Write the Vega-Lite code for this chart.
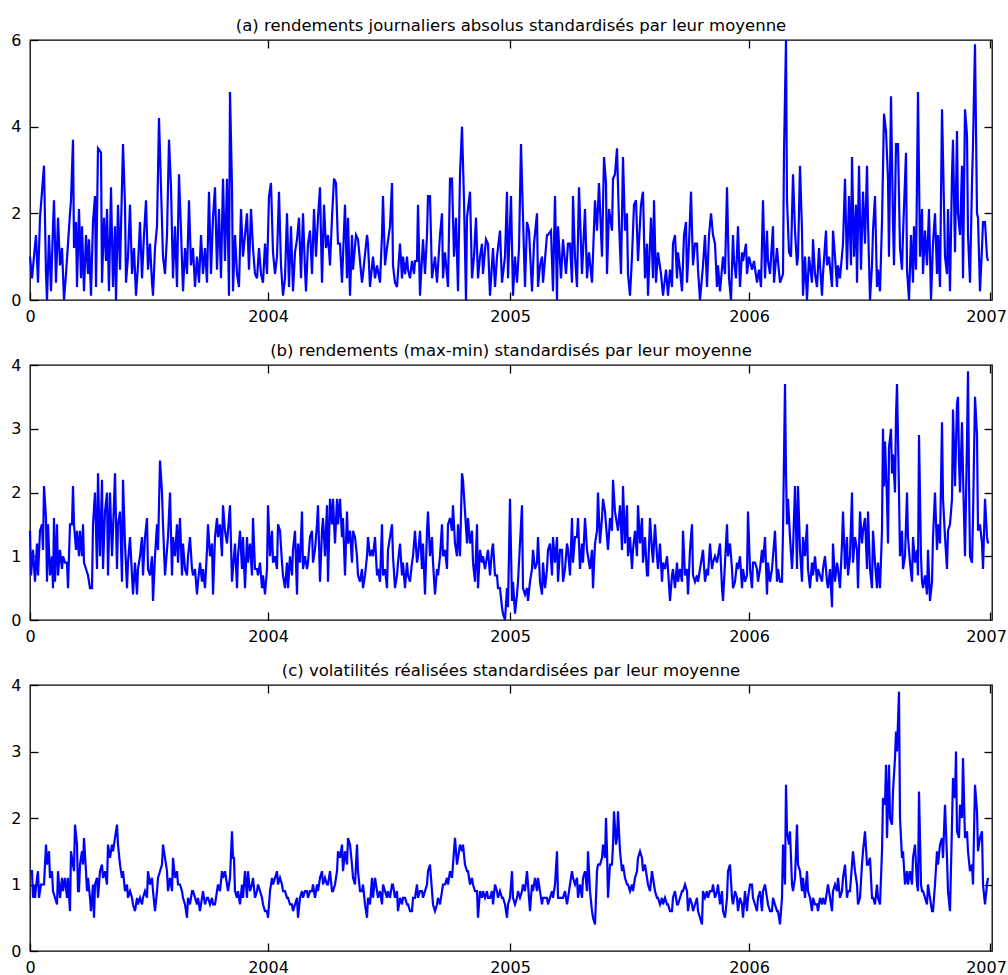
{
  "$schema": "https://vega.github.io/schema/vega-lite/v6.json",
  "padding": {"left": 10, "top": 16, "right": 0, "bottom": 0},
  "bounds": "flush",
  "spacing": 65,
  "config": {
    "font": "DejaVu Sans",
    "view": {"stroke": "#000", "strokeWidth": 1.3},
    "axis": {
      "domain": false, "grid": false,
      "labelFont": "DejaVu Sans", "labelFontSize": 16, "labelColor": "#000",
      "labelFlush": false, "labelPadding": 17,
      "tickColor": "#000", "tickSize": -8, "tickWidth": 1.3
    },
    "axisBottom": {"labelPadding": 16},
    "title": {"font": "DejaVu Sans", "fontSize": 16.5, "fontWeight": "normal", "color": "#000", "offset": -2}
  },
  "datasets": {
    "a": [
      {"jour":0,"v":1.0},{"jour":2,"v":0.5},{"jour":4,"v":1.0},{"jour":6,"v":1.5},{"jour":8,"v":0.4},{"jour":10,"v":1.9},{"jour":12,"v":2.5},{"jour":14,"v":3.1},{"jour":16,"v":0.6},{"jour":17,"v":0.0},
      {"jour":19,"v":1.5},{"jour":21,"v":0.2},{"jour":23,"v":1.7},{"jour":24,"v":2.3},{"jour":26,"v":0.4},{"jour":28,"v":1.9},{"jour":30,"v":0.8},{"jour":32,"v":1.2},{"jour":34,"v":0.0},{"jour":36,"v":0.6},
      {"jour":38,"v":1.3},{"jour":40,"v":2.0},{"jour":41,"v":2.3},{"jour":43,"v":3.7},{"jour":44,"v":1.2},{"jour":46,"v":1.8},{"jour":47,"v":0.3},{"jour":49,"v":2.1},{"jour":51,"v":0.5},{"jour":52,"v":1.7},
      {"jour":54,"v":0.2},{"jour":56,"v":1.5},{"jour":58,"v":0.6},{"jour":59,"v":1.4},{"jour":61,"v":0.1},{"jour":63,"v":1.8},{"jour":65,"v":2.4},{"jour":66,"v":0.3},{"jour":68,"v":3.5},{"jour":71,"v":3.4},
      {"jour":72,"v":0.4},{"jour":74,"v":1.9},{"jour":76,"v":0.9},{"jour":77,"v":2.1},{"jour":79,"v":0.2},{"jour":81,"v":2.6},{"jour":83,"v":0.3},{"jour":85,"v":1.7},{"jour":86,"v":0.0},{"jour":88,"v":2.2},
      {"jour":90,"v":0.7},{"jour":93,"v":3.6},{"jour":95,"v":2.2},{"jour":96,"v":0.4},{"jour":98,"v":1.0},{"jour":100,"v":2.2},{"jour":102,"v":0.6},{"jour":104,"v":1.2},{"jour":106,"v":0.1},{"jour":108,"v":0.8},
      {"jour":110,"v":1.8},{"jour":112,"v":0.5},{"jour":114,"v":1.5},{"jour":116,"v":2.3},{"jour":118,"v":0.7},{"jour":120,"v":1.3},{"jour":122,"v":0.4},{"jour":123,"v":0.1},{"jour":125,"v":1.2},{"jour":127,"v":1.7},
      {"jour":129,"v":4.2},{"jour":131,"v":2.6},{"jour":133,"v":1.0},{"jour":135,"v":0.6},{"jour":137,"v":1.5},{"jour":139,"v":3.7},{"jour":141,"v":2.6},{"jour":143,"v":0.5},{"jour":145,"v":1.7},{"jour":147,"v":0.3},
      {"jour":149,"v":2.9},{"jour":151,"v":1.6},{"jour":153,"v":0.2},{"jour":155,"v":1.2},{"jour":157,"v":0.6},{"jour":159,"v":2.3},{"jour":161,"v":0.8},{"jour":163,"v":1.2},{"jour":165,"v":0.3},{"jour":167,"v":1.0},
      {"jour":169,"v":0.4},{"jour":171,"v":1.5},{"jour":173,"v":0.6},{"jour":175,"v":1.2},{"jour":177,"v":0.4},{"jour":179,"v":2.5},{"jour":181,"v":0.6},{"jour":183,"v":1.9},{"jour":185,"v":2.6},{"jour":187,"v":0.7},
      {"jour":189,"v":2.1},{"jour":191,"v":0.5},{"jour":193,"v":2.8},{"jour":195,"v":0.9},{"jour":197,"v":2.8},{"jour":199,"v":0.1},{"jour":200,"v":4.8},{"jour":202,"v":2.6},{"jour":203,"v":0.2},{"jour":205,"v":1.5},
      {"jour":207,"v":0.6},{"jour":209,"v":0.3},{"jour":211,"v":2.1},{"jour":213,"v":1.0},{"jour":215,"v":1.5},{"jour":217,"v":2.0},{"jour":219,"v":0.7},{"jour":221,"v":2.1},{"jour":223,"v":1.2},{"jour":225,"v":0.6},
      {"jour":227,"v":0.5},{"jour":229,"v":1.2},{"jour":231,"v":0.6},{"jour":233,"v":0.4},{"jour":235,"v":1.3},{"jour":237,"v":0.6},{"jour":239,"v":2.4},{"jour":241,"v":2.7},{"jour":243,"v":1.1},{"jour":245,"v":0.6},
      {"jour":247,"v":1.0},{"jour":249,"v":2.5},{"jour":251,"v":0.8},{"jour":253,"v":0.1},{"jour":255,"v":0.5},{"jour":257,"v":2.0},{"jour":259,"v":0.3},{"jour":261,"v":1.7},{"jour":263,"v":0.2},{"jour":265,"v":1.1},
      {"jour":267,"v":1.4},{"jour":269,"v":1.9},{"jour":271,"v":0.5},{"jour":273,"v":2.0},{"jour":275,"v":0.7},{"jour":276,"v":0.2},{"jour":278,"v":1.3},{"jour":280,"v":1.6},{"jour":282,"v":0.6},{"jour":284,"v":2.1},
      {"jour":286,"v":1.0},{"jour":288,"v":1.9},{"jour":290,"v":2.6},{"jour":292,"v":0.4},{"jour":294,"v":2.2},{"jour":296,"v":1.2},{"jour":298,"v":1.5},{"jour":300,"v":0.8},{"jour":302,"v":1.9},{"jour":304,"v":2.8},
      {"jour":306,"v":2.7},{"jour":308,"v":1.3},{"jour":310,"v":1.3},{"jour":312,"v":0.4},{"jour":315,"v":2.2},{"jour":317,"v":0.5},{"jour":318,"v":1.9},{"jour":320,"v":0.1},{"jour":322,"v":1.5},{"jour":323,"v":0.7},
      {"jour":326,"v":1.5},{"jour":328,"v":1.4},{"jour":332,"v":0.4},{"jour":333,"v":0.6},{"jour":337,"v":1.5},{"jour":338,"v":1.3},{"jour":340,"v":0.3},{"jour":343,"v":1.0},{"jour":345,"v":0.5},{"jour":347,"v":0.8},
      {"jour":350,"v":0.4},{"jour":352,"v":1.5},{"jour":353,"v":2.4},{"jour":355,"v":0.8},{"jour":357,"v":1.2},{"jour":360,"v":1.7},{"jour":362,"v":2.7},{"jour":363,"v":0.8},{"jour":365,"v":0.4},{"jour":367,"v":0.3},
      {"jour":370,"v":1.3},{"jour":372,"v":0.5},{"jour":373,"v":1.0},{"jour":375,"v":0.6},{"jour":377,"v":1.0},{"jour":378,"v":0.7},{"jour":380,"v":0.5},{"jour":382,"v":0.9},{"jour":384,"v":0.6},{"jour":385,"v":0.9},
      {"jour":387,"v":0.9},{"jour":388,"v":2.2},{"jour":390,"v":0.1},{"jour":393,"v":1.4},{"jour":395,"v":0.6},{"jour":397,"v":1.5},{"jour":398,"v":2.4},{"jour":400,"v":2.4},{"jour":402,"v":0.5},{"jour":405,"v":1.0},
      {"jour":407,"v":0.4},{"jour":410,"v":1.5},{"jour":412,"v":2.0},{"jour":413,"v":0.5},{"jour":415,"v":1.1},{"jour":418,"v":0.3},{"jour":420,"v":2.8},{"jour":422,"v":2.8},{"jour":424,"v":1.0},{"jour":426,"v":1.9},
      {"jour":428,"v":0.2},{"jour":430,"v":2.9},{"jour":432,"v":4.0},{"jour":434,"v":2.3},{"jour":436,"v":0.0},{"jour":437,"v":1.9},{"jour":440,"v":2.5},{"jour":442,"v":0.5},{"jour":444,"v":1.0},{"jour":446,"v":1.9},
      {"jour":448,"v":0.5},{"jour":450,"v":1.0},{"jour":452,"v":1.3},{"jour":453,"v":0.6},{"jour":456,"v":1.4},{"jour":458,"v":1.3},{"jour":460,"v":0.1},{"jour":463,"v":1.2},{"jour":465,"v":0.3},{"jour":467,"v":1.0},
      {"jour":470,"v":1.6},{"jour":472,"v":0.4},{"jour":475,"v":1.0},{"jour":477,"v":2.5},{"jour":478,"v":0.5},{"jour":481,"v":2.4},{"jour":483,"v":0.1},{"jour":485,"v":1.0},{"jour":487,"v":0.4},{"jour":489,"v":1.2},
      {"jour":491,"v":3.6},{"jour":493,"v":1.9},{"jour":495,"v":0.3},{"jour":497,"v":1.8},{"jour":499,"v":1.6},{"jour":502,"v":0.2},{"jour":504,"v":1.3},{"jour":507,"v":2.0},{"jour":508,"v":0.3},{"jour":510,"v":0.8},
      {"jour":512,"v":1.0},{"jour":513,"v":0.4},{"jour":517,"v":1.5},{"jour":518,"v":1.5},{"jour":521,"v":1.6},{"jour":523,"v":0.2},{"jour":525,"v":2.4},{"jour":527,"v":0.0},{"jour":528,"v":1.7},{"jour":531,"v":0.5},
      {"jour":533,"v":1.4},{"jour":536,"v":0.6},{"jour":538,"v":1.3},{"jour":540,"v":1.3},{"jour":542,"v":0.4},{"jour":543,"v":2.4},{"jour":545,"v":1.0},{"jour":547,"v":0.3},{"jour":549,"v":2.6},{"jour":552,"v":0.6},
      {"jour":555,"v":2.1},{"jour":557,"v":0.5},{"jour":559,"v":1.1},{"jour":562,"v":0.4},{"jour":565,"v":2.3},{"jour":567,"v":1.6},{"jour":569,"v":2.7},{"jour":572,"v":1.0},{"jour":574,"v":3.3},{"jour":576,"v":2.7},
      {"jour":577,"v":0.6},{"jour":579,"v":2.1},{"jour":582,"v":1.6},{"jour":583,"v":2.8},{"jour":585,"v":2.9},{"jour":587,"v":3.5},{"jour":589,"v":1.8},{"jour":591,"v":0.6},{"jour":593,"v":3.3},{"jour":595,"v":1.6},
      {"jour":597,"v":2.0},{"jour":598,"v":0.6},{"jour":600,"v":0.1},{"jour":602,"v":1.0},{"jour":604,"v":2.2},{"jour":606,"v":2.3},{"jour":608,"v":0.9},{"jour":611,"v":2.2},{"jour":613,"v":2.5},{"jour":615,"v":0.5},
      {"jour":617,"v":1.3},{"jour":618,"v":0.1},{"jour":621,"v":1.9},{"jour":623,"v":0.5},{"jour":624,"v":2.3},{"jour":626,"v":0.4},{"jour":628,"v":1.1},{"jour":631,"v":0.6},{"jour":633,"v":0.1},{"jour":636,"v":0.7},
      {"jour":638,"v":0.1},{"jour":640,"v":0.7},{"jour":642,"v":0.3},{"jour":643,"v":1.3},{"jour":645,"v":1.5},{"jour":647,"v":0.5},{"jour":648,"v":1.1},{"jour":650,"v":0.7},{"jour":652,"v":0.2},{"jour":654,"v":1.5},
      {"jour":656,"v":1.8},{"jour":657,"v":0.4},{"jour":659,"v":1.3},{"jour":661,"v":2.5},{"jour":663,"v":0.8},{"jour":665,"v":1.3},{"jour":667,"v":1.3},{"jour":668,"v":0.7},{"jour":670,"v":0.0},{"jour":673,"v":0.8},
      {"jour":675,"v":1.5},{"jour":677,"v":0.3},{"jour":679,"v":1.5},{"jour":681,"v":2.0},{"jour":683,"v":1.5},{"jour":685,"v":1.3},{"jour":687,"v":0.3},{"jour":688,"v":0.8},{"jour":690,"v":0.2},{"jour":693,"v":1.0},
      {"jour":695,"v":0.6},{"jour":697,"v":2.6},{"jour":699,"v":0.5},{"jour":701,"v":0.0},{"jour":703,"v":1.5},{"jour":704,"v":0.9},{"jour":706,"v":0.5},{"jour":708,"v":1.7},{"jour":710,"v":0.3},{"jour":712,"v":1.1},
      {"jour":713,"v":0.9},{"jour":716,"v":1.3},{"jour":717,"v":0.6},{"jour":719,"v":1.0},{"jour":722,"v":0.7},{"jour":724,"v":0.9},{"jour":727,"v":0.4},{"jour":729,"v":0.7},{"jour":731,"v":0.3},{"jour":733,"v":2.3},
      {"jour":735,"v":0.5},{"jour":737,"v":1.6},{"jour":738,"v":0.9},{"jour":740,"v":0.6},{"jour":743,"v":1.7},{"jour":744,"v":0.4},{"jour":747,"v":1.2},{"jour":748,"v":0.9},{"jour":750,"v":0.4},{"jour":753,"v":0.6},
      {"jour":754,"v":3.4},{"jour":756,"v":6.0},{"jour":757,"v":2.3},{"jour":759,"v":1.1},{"jour":761,"v":1.0},{"jour":763,"v":2.9},{"jour":765,"v":1.6},{"jour":767,"v":0.8},{"jour":768,"v":1.0},{"jour":770,"v":3.1},
      {"jour":772,"v":1.6},{"jour":773,"v":0.1},{"jour":775,"v":1.0},{"jour":777,"v":0.0},{"jour":779,"v":1.0},{"jour":782,"v":0.4},{"jour":783,"v":1.4},{"jour":785,"v":0.6},{"jour":787,"v":0.3},{"jour":789,"v":1.2},
      {"jour":792,"v":0.1},{"jour":793,"v":0.6},{"jour":796,"v":1.6},{"jour":797,"v":0.8},{"jour":799,"v":1.0},{"jour":802,"v":0.3},{"jour":803,"v":1.6},{"jour":805,"v":1.0},{"jour":807,"v":0.3},{"jour":808,"v":0.8},
      {"jour":810,"v":0.5},{"jour":813,"v":1.3},{"jour":815,"v":2.8},{"jour":817,"v":0.7},{"jour":819,"v":2.4},{"jour":821,"v":0.8},{"jour":822,"v":3.3},{"jour":824,"v":1.0},{"jour":826,"v":2.2},{"jour":827,"v":0.4},
      {"jour":829,"v":3.1},{"jour":831,"v":0.7},{"jour":833,"v":2.5},{"jour":835,"v":1.3},{"jour":837,"v":3.1},{"jour":838,"v":1.8},{"jour":840,"v":0.0},{"jour":842,"v":0.8},{"jour":843,"v":1.6},{"jour":845,"v":2.4},
      {"jour":847,"v":0.3},{"jour":848,"v":0.7},{"jour":850,"v":0.2},{"jour":852,"v":1.8},{"jour":854,"v":4.3},{"jour":856,"v":3.9},{"jour":858,"v":2.8},{"jour":859,"v":1.0},{"jour":861,"v":4.7},{"jour":863,"v":1.8},
      {"jour":864,"v":0.8},{"jour":866,"v":3.6},{"jour":868,"v":3.6},{"jour":870,"v":1.2},{"jour":872,"v":0.7},{"jour":873,"v":1.5},{"jour":876,"v":3.4},{"jour":877,"v":0.7},{"jour":879,"v":0.0},{"jour":881,"v":1.5},
      {"jour":883,"v":0.4},{"jour":884,"v":1.7},{"jour":886,"v":0.7},{"jour":888,"v":4.8},{"jour":890,"v":1.0},{"jour":892,"v":2.1},{"jour":893,"v":0.6},{"jour":895,"v":1.6},{"jour":897,"v":0.8},{"jour":899,"v":2.1},
      {"jour":901,"v":0.0},{"jour":903,"v":1.3},{"jour":905,"v":2.0},{"jour":907,"v":0.6},{"jour":908,"v":1.5},{"jour":910,"v":0.3},{"jour":912,"v":4.4},{"jour":913,"v":3.3},{"jour":915,"v":1.0},{"jour":917,"v":0.6},
      {"jour":918,"v":2.1},{"jour":920,"v":0.2},{"jour":922,"v":2.9},{"jour":923,"v":3.7},{"jour":925,"v":1.1},{"jour":927,"v":3.9},{"jour":928,"v":2.0},{"jour":930,"v":1.5},{"jour":932,"v":3.1},{"jour":933,"v":0.5},
      {"jour":935,"v":4.4},{"jour":937,"v":3.8},{"jour":938,"v":1.5},{"jour":940,"v":0.4},{"jour":942,"v":2.7},{"jour":943,"v":3.6},{"jour":945,"v":5.9},{"jour":947,"v":2.0},{"jour":948,"v":1.9},{"jour":950,"v":0.2},
      {"jour":952,"v":1.2},{"jour":953,"v":1.8},{"jour":955,"v":1.8},{"jour":957,"v":1.0},{"jour":958,"v":0.9}
    ],
    "b": [
      {"jour":0,"v":1.4},{"jour":1,"v":0.7},{"jour":3,"v":1.1},{"jour":5,"v":0.6},{"jour":7,"v":1.2},{"jour":8,"v":0.7},{"jour":10,"v":1.4},{"jour":12,"v":1.5},{"jour":13,"v":1.1},{"jour":14,"v":2.1},
      {"jour":16,"v":1.6},{"jour":17,"v":0.6},{"jour":18,"v":1.5},{"jour":20,"v":0.7},{"jour":22,"v":1.0},{"jour":23,"v":0.5},{"jour":24,"v":1.6},{"jour":25,"v":0.6},{"jour":27,"v":1.5},{"jour":28,"v":0.7},
      {"jour":30,"v":1.1},{"jour":32,"v":0.8},{"jour":33,"v":1.0},{"jour":35,"v":0.9},{"jour":37,"v":0.9},{"jour":38,"v":0.5},{"jour":40,"v":1.5},{"jour":42,"v":1.5},{"jour":43,"v":2.1},{"jour":44,"v":1.5},
      {"jour":46,"v":1.1},{"jour":47,"v":1.4},{"jour":49,"v":1.0},{"jour":50,"v":1.4},{"jour":52,"v":1.0},{"jour":53,"v":1.5},{"jour":54,"v":0.9},{"jour":56,"v":0.8},{"jour":58,"v":0.7},{"jour":60,"v":0.5},
      {"jour":62,"v":0.5},{"jour":63,"v":1.5},{"jour":65,"v":2.0},{"jour":67,"v":0.8},{"jour":68,"v":2.3},{"jour":70,"v":1.0},{"jour":72,"v":2.2},{"jour":73,"v":0.8},{"jour":75,"v":1.7},{"jour":77,"v":2.0},
      {"jour":78,"v":0.7},{"jour":80,"v":2.0},{"jour":82,"v":1.0},{"jour":83,"v":1.4},{"jour":85,"v":2.3},{"jour":87,"v":0.8},{"jour":88,"v":1.5},{"jour":90,"v":1.7},{"jour":92,"v":0.6},{"jour":93,"v":2.2},
      {"jour":95,"v":1.2},{"jour":97,"v":0.5},{"jour":98,"v":0.9},{"jour":100,"v":1.3},{"jour":102,"v":0.7},{"jour":103,"v":0.4},{"jour":105,"v":0.9},{"jour":107,"v":0.4},{"jour":108,"v":0.8},{"jour":110,"v":1.0},
      {"jour":112,"v":1.3},{"jour":113,"v":0.7},{"jour":115,"v":1.3},{"jour":117,"v":1.6},{"jour":118,"v":0.8},{"jour":120,"v":0.7},{"jour":122,"v":1.0},{"jour":123,"v":0.3},{"jour":125,"v":1.0},{"jour":127,"v":1.5},
      {"jour":128,"v":1.1},{"jour":130,"v":2.5},{"jour":132,"v":2.0},{"jour":133,"v":1.5},{"jour":135,"v":0.7},{"jour":137,"v":1.1},{"jour":138,"v":1.3},{"jour":140,"v":2.0},{"jour":142,"v":0.7},{"jour":143,"v":1.3},
      {"jour":145,"v":1.0},{"jour":147,"v":1.5},{"jour":148,"v":0.9},{"jour":150,"v":1.6},{"jour":152,"v":0.7},{"jour":153,"v":1.2},{"jour":155,"v":0.8},{"jour":157,"v":0.7},{"jour":158,"v":1.0},{"jour":160,"v":1.3},
      {"jour":162,"v":0.8},{"jour":163,"v":0.7},{"jour":165,"v":0.8},{"jour":167,"v":0.4},{"jour":168,"v":0.6},{"jour":170,"v":0.9},{"jour":172,"v":0.6},{"jour":173,"v":0.8},{"jour":175,"v":0.5},{"jour":177,"v":1.1},
      {"jour":178,"v":1.5},{"jour":180,"v":1.0},{"jour":182,"v":1.2},{"jour":183,"v":0.4},{"jour":185,"v":1.3},{"jour":187,"v":1.6},{"jour":188,"v":1.3},{"jour":190,"v":1.5},{"jour":192,"v":1.0},{"jour":193,"v":1.8},
      {"jour":195,"v":1.4},{"jour":197,"v":1.2},{"jour":198,"v":1.4},{"jour":200,"v":1.8},{"jour":202,"v":0.6},{"jour":203,"v":0.8},{"jour":205,"v":1.2},{"jour":207,"v":0.5},{"jour":208,"v":1.0},{"jour":210,"v":1.4},
      {"jour":212,"v":0.8},{"jour":213,"v":1.3},{"jour":215,"v":0.5},{"jour":217,"v":1.3},{"jour":218,"v":0.9},{"jour":220,"v":1.2},{"jour":222,"v":0.7},{"jour":223,"v":1.6},{"jour":225,"v":0.8},{"jour":227,"v":0.8},
      {"jour":228,"v":0.7},{"jour":230,"v":0.9},{"jour":232,"v":0.5},{"jour":233,"v":0.7},{"jour":235,"v":0.4},{"jour":237,"v":0.8},{"jour":238,"v":1.8},{"jour":240,"v":1.0},{"jour":242,"v":1.4},{"jour":243,"v":0.9},
      {"jour":245,"v":1.0},{"jour":247,"v":0.8},{"jour":248,"v":1.5},{"jour":250,"v":1.4},{"jour":252,"v":0.9},{"jour":253,"v":0.7},{"jour":255,"v":0.5},{"jour":257,"v":0.9},{"jour":258,"v":0.5},{"jour":260,"v":1.0},
      {"jour":262,"v":0.7},{"jour":263,"v":1.1},{"jour":265,"v":1.4},{"jour":267,"v":0.4},{"jour":268,"v":1.2},{"jour":270,"v":0.9},{"jour":272,"v":1.7},{"jour":273,"v":0.8},{"jour":275,"v":1.0},{"jour":277,"v":0.8},
      {"jour":278,"v":0.9},{"jour":280,"v":1.3},{"jour":282,"v":1.4},{"jour":283,"v":0.9},{"jour":285,"v":1.1},{"jour":287,"v":1.5},{"jour":288,"v":1.8},{"jour":290,"v":0.6},{"jour":292,"v":1.4},{"jour":293,"v":1.6},
      {"jour":295,"v":1.0},{"jour":297,"v":1.8},{"jour":298,"v":0.6},{"jour":300,"v":1.9},{"jour":302,"v":1.5},{"jour":303,"v":1.9},{"jour":305,"v":1.2},{"jour":307,"v":1.9},{"jour":308,"v":1.5},{"jour":310,"v":1.9},
      {"jour":312,"v":1.3},{"jour":313,"v":1.6},{"jour":315,"v":0.7},{"jour":317,"v":1.7},{"jour":318,"v":1.2},{"jour":320,"v":1.4},{"jour":322,"v":0.9},{"jour":323,"v":1.4},{"jour":325,"v":1.3},{"jour":327,"v":1.0},
      {"jour":328,"v":0.7},{"jour":330,"v":0.6},{"jour":332,"v":0.8},{"jour":333,"v":0.5},{"jour":335,"v":0.7},{"jour":337,"v":1.0},{"jour":338,"v":1.3},{"jour":340,"v":1.0},{"jour":342,"v":1.1},{"jour":343,"v":1.0},
      {"jour":345,"v":1.3},{"jour":347,"v":0.7},{"jour":348,"v":0.8},{"jour":350,"v":0.6},{"jour":352,"v":1.5},{"jour":353,"v":0.7},{"jour":355,"v":0.8},{"jour":357,"v":0.5},{"jour":358,"v":1.1},{"jour":360,"v":1.3},
      {"jour":362,"v":1.5},{"jour":363,"v":1.0},{"jour":365,"v":0.5},{"jour":367,"v":0.7},{"jour":368,"v":0.9},{"jour":370,"v":1.2},{"jour":372,"v":0.7},{"jour":373,"v":0.9},{"jour":375,"v":0.5},{"jour":377,"v":0.9},
      {"jour":378,"v":0.7},{"jour":380,"v":0.6},{"jour":382,"v":0.9},{"jour":383,"v":1.0},{"jour":385,"v":1.4},{"jour":387,"v":0.9},{"jour":388,"v":1.0},{"jour":390,"v":1.4},{"jour":392,"v":0.8},{"jour":393,"v":1.2},
      {"jour":395,"v":0.4},{"jour":397,"v":1.4},{"jour":398,"v":1.7},{"jour":400,"v":1.0},{"jour":402,"v":1.3},{"jour":403,"v":0.9},{"jour":405,"v":0.4},{"jour":407,"v":0.8},{"jour":408,"v":0.7},{"jour":410,"v":1.0},
      {"jour":412,"v":1.5},{"jour":413,"v":1.0},{"jour":415,"v":1.1},{"jour":417,"v":0.8},{"jour":418,"v":1.5},{"jour":420,"v":1.6},{"jour":422,"v":1.4},{"jour":423,"v":1.8},{"jour":425,"v":1.2},{"jour":427,"v":1.0},
      {"jour":428,"v":1.5},{"jour":430,"v":1.0},{"jour":432,"v":2.3},{"jour":433,"v":2.2},{"jour":435,"v":1.7},{"jour":437,"v":1.2},{"jour":438,"v":1.6},{"jour":440,"v":1.2},{"jour":442,"v":1.4},{"jour":443,"v":0.9},
      {"jour":445,"v":0.6},{"jour":447,"v":1.5},{"jour":448,"v":0.5},{"jour":450,"v":1.1},{"jour":452,"v":0.9},{"jour":453,"v":1.0},{"jour":455,"v":0.8},{"jour":457,"v":1.0},{"jour":458,"v":1.1},{"jour":460,"v":0.7},
      {"jour":462,"v":1.1},{"jour":463,"v":1.2},{"jour":465,"v":0.7},{"jour":467,"v":0.7},{"jour":468,"v":0.5},{"jour":470,"v":0.5},{"jour":472,"v":0.2},{"jour":473,"v":0.1},{"jour":475,"v":0.0},{"jour":477,"v":0.5},
      {"jour":478,"v":0.2},{"jour":480,"v":1.9},{"jour":482,"v":0.3},{"jour":483,"v":0.6},{"jour":485,"v":0.1},{"jour":487,"v":0.4},{"jour":488,"v":0.6},{"jour":490,"v":1.2},{"jour":492,"v":1.8},{"jour":493,"v":0.5},
      {"jour":495,"v":0.4},{"jour":497,"v":0.5},{"jour":498,"v":0.3},{"jour":500,"v":0.6},{"jour":502,"v":0.8},{"jour":503,"v":1.1},{"jour":505,"v":0.8},{"jour":507,"v":0.9},{"jour":508,"v":1.3},{"jour":510,"v":0.6},
      {"jour":512,"v":0.4},{"jour":513,"v":0.9},{"jour":515,"v":0.5},{"jour":517,"v":0.8},{"jour":518,"v":1.1},{"jour":520,"v":1.2},{"jour":522,"v":0.7},{"jour":523,"v":1.3},{"jour":525,"v":0.9},{"jour":527,"v":1.3},
      {"jour":528,"v":0.6},{"jour":530,"v":1.1},{"jour":532,"v":1.1},{"jour":533,"v":0.6},{"jour":535,"v":0.8},{"jour":537,"v":1.2},{"jour":538,"v":1.1},{"jour":540,"v":0.7},{"jour":542,"v":1.6},{"jour":543,"v":0.9},
      {"jour":545,"v":1.3},{"jour":547,"v":1.3},{"jour":548,"v":1.6},{"jour":550,"v":0.8},{"jour":552,"v":1.2},{"jour":553,"v":0.9},{"jour":555,"v":1.6},{"jour":557,"v":1.1},{"jour":558,"v":1.0},{"jour":560,"v":0.8},
      {"jour":562,"v":1.1},{"jour":563,"v":0.5},{"jour":565,"v":1.2},{"jour":567,"v":1.4},{"jour":568,"v":2.0},{"jour":570,"v":1.2},{"jour":572,"v":1.6},{"jour":573,"v":1.9},{"jour":575,"v":1.7},{"jour":577,"v":1.3},
      {"jour":578,"v":1.1},{"jour":580,"v":1.6},{"jour":582,"v":1.4},{"jour":583,"v":2.2},{"jour":585,"v":1.7},{"jour":587,"v":1.5},{"jour":588,"v":1.4},{"jour":590,"v":1.8},{"jour":592,"v":1.1},{"jour":593,"v":2.1},
      {"jour":595,"v":1.2},{"jour":597,"v":1.8},{"jour":598,"v":1.0},{"jour":600,"v":1.3},{"jour":602,"v":0.8},{"jour":603,"v":1.1},{"jour":605,"v":1.4},{"jour":607,"v":1.0},{"jour":608,"v":1.8},{"jour":610,"v":1.2},
      {"jour":612,"v":1.6},{"jour":613,"v":0.9},{"jour":615,"v":1.3},{"jour":617,"v":0.7},{"jour":618,"v":0.7},{"jour":620,"v":1.6},{"jour":622,"v":1.1},{"jour":623,"v":0.9},{"jour":625,"v":1.5},{"jour":627,"v":1.0},
      {"jour":628,"v":0.8},{"jour":630,"v":1.2},{"jour":632,"v":0.6},{"jour":633,"v":0.9},{"jour":635,"v":0.8},{"jour":637,"v":1.0},{"jour":638,"v":0.8},{"jour":640,"v":0.3},{"jour":642,"v":0.7},{"jour":643,"v":0.8},
      {"jour":645,"v":0.5},{"jour":647,"v":0.9},{"jour":648,"v":0.6},{"jour":650,"v":0.8},{"jour":652,"v":0.6},{"jour":653,"v":1.4},{"jour":655,"v":0.7},{"jour":657,"v":0.8},{"jour":658,"v":0.4},{"jour":660,"v":1.1},
      {"jour":662,"v":1.5},{"jour":663,"v":0.7},{"jour":665,"v":0.6},{"jour":667,"v":0.7},{"jour":668,"v":0.6},{"jour":670,"v":0.8},{"jour":672,"v":1.0},{"jour":673,"v":1.1},{"jour":675,"v":0.6},{"jour":677,"v":0.8},
      {"jour":678,"v":0.7},{"jour":680,"v":1.2},{"jour":682,"v":0.8},{"jour":683,"v":0.9},{"jour":685,"v":1.0},{"jour":687,"v":0.9},{"jour":688,"v":1.0},{"jour":690,"v":1.2},{"jour":692,"v":0.5},{"jour":693,"v":0.3},
      {"jour":695,"v":0.9},{"jour":697,"v":1.5},{"jour":698,"v":1.0},{"jour":700,"v":1.2},{"jour":702,"v":0.8},{"jour":703,"v":0.5},{"jour":705,"v":0.6},{"jour":707,"v":0.9},{"jour":708,"v":0.8},{"jour":710,"v":1.0},
      {"jour":712,"v":0.5},{"jour":713,"v":0.8},{"jour":715,"v":0.6},{"jour":717,"v":0.7},{"jour":718,"v":1.7},{"jour":720,"v":0.8},{"jour":722,"v":0.5},{"jour":723,"v":0.9},{"jour":725,"v":0.9},{"jour":727,"v":0.8},
      {"jour":728,"v":0.6},{"jour":730,"v":0.8},{"jour":732,"v":1.1},{"jour":733,"v":0.9},{"jour":735,"v":1.3},{"jour":737,"v":0.4},{"jour":738,"v":0.9},{"jour":740,"v":0.6},{"jour":742,"v":0.8},{"jour":743,"v":1.0},
      {"jour":745,"v":1.4},{"jour":747,"v":0.6},{"jour":748,"v":0.8},{"jour":750,"v":0.6},{"jour":752,"v":0.6},{"jour":753,"v":1.4},{"jour":755,"v":3.7},{"jour":756,"v":2.3},{"jour":757,"v":1.5},{"jour":758,"v":1.9},
      {"jour":760,"v":1.3},{"jour":762,"v":0.8},{"jour":763,"v":1.1},{"jour":765,"v":2.1},{"jour":767,"v":0.8},{"jour":768,"v":2.1},{"jour":770,"v":1.1},{"jour":772,"v":0.6},{"jour":773,"v":1.3},{"jour":775,"v":1.0},
      {"jour":777,"v":1.5},{"jour":778,"v":0.8},{"jour":780,"v":0.5},{"jour":782,"v":0.9},{"jour":783,"v":0.7},{"jour":785,"v":1.0},{"jour":787,"v":0.6},{"jour":788,"v":0.8},{"jour":790,"v":0.7},{"jour":792,"v":0.6},
      {"jour":793,"v":0.8},{"jour":795,"v":1.0},{"jour":797,"v":0.6},{"jour":798,"v":0.5},{"jour":800,"v":0.8},{"jour":802,"v":0.2},{"jour":803,"v":1.2},{"jour":805,"v":0.6},{"jour":807,"v":0.9},{"jour":808,"v":0.8},
      {"jour":810,"v":0.5},{"jour":812,"v":1.2},{"jour":813,"v":1.7},{"jour":815,"v":0.8},{"jour":817,"v":1.3},{"jour":818,"v":0.7},{"jour":820,"v":1.0},{"jour":822,"v":2.0},{"jour":823,"v":0.9},{"jour":825,"v":1.3},
      {"jour":827,"v":1.1},{"jour":828,"v":0.5},{"jour":830,"v":1.7},{"jour":832,"v":1.2},{"jour":833,"v":1.4},{"jour":835,"v":1.6},{"jour":837,"v":0.8},{"jour":838,"v":1.7},{"jour":840,"v":0.8},{"jour":842,"v":0.5},
      {"jour":843,"v":1.4},{"jour":845,"v":0.9},{"jour":847,"v":0.5},{"jour":848,"v":0.9},{"jour":850,"v":0.5},{"jour":852,"v":1.4},{"jour":853,"v":3.0},{"jour":854,"v":2.1},{"jour":855,"v":2.8},{"jour":857,"v":1.9},
      {"jour":858,"v":1.2},{"jour":859,"v":2.7},{"jour":861,"v":3.0},{"jour":862,"v":2.3},{"jour":863,"v":2.6},{"jour":865,"v":2.0},{"jour":866,"v":3.2},{"jour":867,"v":3.7},{"jour":869,"v":2.0},{"jour":870,"v":1.0},
      {"jour":872,"v":1.4},{"jour":873,"v":0.8},{"jour":875,"v":1.0},{"jour":877,"v":2.0},{"jour":878,"v":1.3},{"jour":880,"v":0.9},{"jour":882,"v":0.6},{"jour":883,"v":1.3},{"jour":885,"v":0.9},{"jour":887,"v":1.1},
      {"jour":888,"v":0.7},{"jour":889,"v":2.9},{"jour":891,"v":1.0},{"jour":892,"v":0.6},{"jour":893,"v":0.5},{"jour":895,"v":0.7},{"jour":897,"v":0.4},{"jour":898,"v":1.1},{"jour":900,"v":0.3},{"jour":902,"v":0.6},
      {"jour":903,"v":1.3},{"jour":905,"v":2.0},{"jour":907,"v":1.1},{"jour":908,"v":1.5},{"jour":910,"v":1.2},{"jour":912,"v":3.1},{"jour":913,"v":1.9},{"jour":915,"v":1.3},{"jour":917,"v":0.8},{"jour":918,"v":1.4},
      {"jour":920,"v":1.5},{"jour":922,"v":1.9},{"jour":923,"v":3.3},{"jour":925,"v":2.1},{"jour":927,"v":3.4},{"jour":928,"v":3.5},{"jour":929,"v":2.5},{"jour":930,"v":2.0},{"jour":932,"v":3.1},{"jour":933,"v":2.3},
      {"jour":935,"v":1.0},{"jour":937,"v":2.8},{"jour":938,"v":3.9},{"jour":939,"v":2.2},{"jour":940,"v":1.0},{"jour":942,"v":0.9},{"jour":943,"v":1.6},{"jour":945,"v":3.5},{"jour":947,"v":2.9},{"jour":948,"v":1.4},
      {"jour":950,"v":1.5},{"jour":952,"v":1.2},{"jour":953,"v":0.8},{"jour":955,"v":1.9},{"jour":957,"v":1.3},{"jour":958,"v":1.2}
    ],
    "c": [
      {"jour":0,"v":1.2},{"jour":2,"v":1.2},{"jour":3,"v":0.8},{"jour":4,"v":1.0},{"jour":5,"v":0.8},{"jour":7,"v":1.1},{"jour":8,"v":1.2},{"jour":9,"v":0.8},{"jour":11,"v":1.0},{"jour":13,"v":1.0},
      {"jour":14,"v":1.0},{"jour":16,"v":1.6},{"jour":17,"v":1.3},{"jour":19,"v":1.5},{"jour":20,"v":1.1},{"jour":22,"v":1.2},{"jour":23,"v":0.9},{"jour":25,"v":0.8},{"jour":27,"v":0.7},{"jour":28,"v":1.2},
      {"jour":30,"v":0.8},{"jour":32,"v":1.1},{"jour":33,"v":0.9},{"jour":35,"v":1.1},{"jour":37,"v":0.8},{"jour":38,"v":1.1},{"jour":40,"v":0.6},{"jour":41,"v":1.5},{"jour":43,"v":1.3},{"jour":44,"v":1.2},
      {"jour":45,"v":1.9},{"jour":47,"v":1.6},{"jour":48,"v":0.9},{"jour":49,"v":0.9},{"jour":50,"v":1.3},{"jour":52,"v":1.5},{"jour":53,"v":1.3},{"jour":54,"v":1.7},{"jour":56,"v":1.2},{"jour":57,"v":0.9},
      {"jour":58,"v":1.1},{"jour":60,"v":0.8},{"jour":61,"v":0.6},{"jour":63,"v":1.0},{"jour":64,"v":0.5},{"jour":65,"v":1.0},{"jour":67,"v":1.1},{"jour":68,"v":0.8},{"jour":70,"v":1.2},{"jour":72,"v":1.3},
      {"jour":73,"v":1.1},{"jour":75,"v":1.2},{"jour":77,"v":1.0},{"jour":78,"v":1.6},{"jour":80,"v":1.4},{"jour":82,"v":1.6},{"jour":83,"v":1.5},{"jour":85,"v":1.7},{"jour":87,"v":1.9},{"jour":88,"v":1.6},
      {"jour":90,"v":1.3},{"jour":92,"v":1.1},{"jour":93,"v":1.2},{"jour":95,"v":0.9},{"jour":97,"v":1.0},{"jour":98,"v":0.8},{"jour":100,"v":0.9},{"jour":102,"v":0.8},{"jour":103,"v":0.7},{"jour":105,"v":0.6},
      {"jour":107,"v":0.8},{"jour":108,"v":0.7},{"jour":110,"v":0.8},{"jour":112,"v":0.7},{"jour":113,"v":0.8},{"jour":115,"v":0.9},{"jour":117,"v":0.8},{"jour":118,"v":1.2},{"jour":120,"v":1.0},{"jour":122,"v":1.1},
      {"jour":123,"v":0.9},{"jour":125,"v":0.6},{"jour":127,"v":0.9},{"jour":128,"v":1.1},{"jour":130,"v":1.2},{"jour":132,"v":1.3},{"jour":133,"v":1.6},{"jour":135,"v":1.4},{"jour":137,"v":1.2},{"jour":138,"v":0.9},
      {"jour":140,"v":1.1},{"jour":142,"v":0.9},{"jour":143,"v":1.4},{"jour":145,"v":1.1},{"jour":147,"v":1.2},{"jour":148,"v":1.0},{"jour":150,"v":1.0},{"jour":152,"v":0.9},{"jour":153,"v":0.8},{"jour":155,"v":0.7},
      {"jour":157,"v":0.5},{"jour":158,"v":0.8},{"jour":160,"v":0.7},{"jour":162,"v":0.9},{"jour":163,"v":0.9},{"jour":165,"v":0.8},{"jour":167,"v":0.7},{"jour":168,"v":0.8},{"jour":170,"v":0.6},{"jour":172,"v":0.8},
      {"jour":173,"v":0.9},{"jour":175,"v":0.7},{"jour":177,"v":0.8},{"jour":178,"v":0.8},{"jour":180,"v":0.7},{"jour":182,"v":0.8},{"jour":183,"v":0.7},{"jour":185,"v":0.7},{"jour":187,"v":0.9},{"jour":188,"v":1.0},
      {"jour":190,"v":0.9},{"jour":192,"v":1.2},{"jour":193,"v":1.1},{"jour":195,"v":1.2},{"jour":197,"v":1.0},{"jour":198,"v":0.9},{"jour":200,"v":1.1},{"jour":202,"v":1.8},{"jour":203,"v":1.4},{"jour":204,"v":1.4},
      {"jour":205,"v":0.9},{"jour":207,"v":0.8},{"jour":208,"v":0.9},{"jour":210,"v":0.7},{"jour":212,"v":1.0},{"jour":213,"v":0.8},{"jour":215,"v":1.2},{"jour":217,"v":0.8},{"jour":218,"v":1.2},{"jour":220,"v":0.9},
      {"jour":222,"v":1.0},{"jour":223,"v":1.1},{"jour":225,"v":0.8},{"jour":227,"v":0.9},{"jour":228,"v":1.0},{"jour":230,"v":0.9},{"jour":232,"v":0.8},{"jour":233,"v":0.7},{"jour":235,"v":0.6},{"jour":237,"v":0.6},
      {"jour":238,"v":0.5},{"jour":240,"v":0.9},{"jour":242,"v":1.1},{"jour":243,"v":1.0},{"jour":245,"v":1.1},{"jour":247,"v":1.2},{"jour":248,"v":1.0},{"jour":250,"v":1.1},{"jour":252,"v":1.0},{"jour":253,"v":0.9},
      {"jour":255,"v":0.9},{"jour":257,"v":0.8},{"jour":258,"v":0.8},{"jour":260,"v":0.7},{"jour":262,"v":0.7},{"jour":263,"v":0.6},{"jour":265,"v":0.7},{"jour":267,"v":0.8},{"jour":268,"v":0.5},{"jour":270,"v":0.8},
      {"jour":272,"v":0.9},{"jour":273,"v":0.8},{"jour":275,"v":0.9},{"jour":277,"v":0.9},{"jour":278,"v":0.8},{"jour":280,"v":0.9},{"jour":282,"v":0.9},{"jour":283,"v":1.0},{"jour":285,"v":0.8},{"jour":287,"v":1.0},
      {"jour":288,"v":0.9},{"jour":290,"v":1.1},{"jour":292,"v":1.2},{"jour":293,"v":1.0},{"jour":295,"v":1.1},{"jour":297,"v":1.0},{"jour":298,"v":1.0},{"jour":300,"v":1.2},{"jour":302,"v":0.9},{"jour":303,"v":0.9},
      {"jour":305,"v":1.0},{"jour":307,"v":1.2},{"jour":308,"v":1.5},{"jour":310,"v":1.4},{"jour":312,"v":1.6},{"jour":313,"v":1.2},{"jour":315,"v":1.5},{"jour":317,"v":1.3},{"jour":318,"v":1.7},{"jour":320,"v":1.6},
      {"jour":322,"v":1.3},{"jour":323,"v":1.1},{"jour":325,"v":1.0},{"jour":327,"v":1.6},{"jour":328,"v":1.2},{"jour":330,"v":0.9},{"jour":332,"v":0.9},{"jour":333,"v":1.0},{"jour":335,"v":0.7},{"jour":337,"v":0.5},
      {"jour":338,"v":0.8},{"jour":340,"v":0.7},{"jour":342,"v":1.1},{"jour":343,"v":0.8},{"jour":345,"v":1.1},{"jour":347,"v":0.9},{"jour":348,"v":0.8},{"jour":350,"v":0.9},{"jour":352,"v":0.7},{"jour":353,"v":1.0},
      {"jour":355,"v":0.9},{"jour":357,"v":0.8},{"jour":358,"v":0.9},{"jour":360,"v":0.8},{"jour":362,"v":1.0},{"jour":363,"v":1.0},{"jour":365,"v":0.8},{"jour":367,"v":0.9},{"jour":368,"v":0.6},{"jour":370,"v":0.8},
      {"jour":372,"v":0.7},{"jour":373,"v":0.8},{"jour":375,"v":0.8},{"jour":377,"v":0.7},{"jour":378,"v":0.7},{"jour":380,"v":0.6},{"jour":382,"v":0.6},{"jour":383,"v":0.8},{"jour":385,"v":0.8},{"jour":387,"v":1.0},
      {"jour":388,"v":0.8},{"jour":390,"v":0.9},{"jour":392,"v":0.9},{"jour":393,"v":0.8},{"jour":395,"v":0.9},{"jour":397,"v":1.0},{"jour":398,"v":1.2},{"jour":400,"v":1.3},{"jour":402,"v":0.9},{"jour":403,"v":0.7},
      {"jour":405,"v":0.6},{"jour":407,"v":0.7},{"jour":408,"v":0.8},{"jour":410,"v":0.7},{"jour":412,"v":0.9},{"jour":413,"v":1.0},{"jour":415,"v":1.0},{"jour":417,"v":1.1},{"jour":418,"v":1.0},{"jour":420,"v":1.2},
      {"jour":422,"v":1.1},{"jour":423,"v":1.3},{"jour":425,"v":1.7},{"jour":427,"v":1.3},{"jour":428,"v":1.4},{"jour":430,"v":1.6},{"jour":432,"v":1.5},{"jour":433,"v":1.6},{"jour":435,"v":1.3},{"jour":437,"v":1.2},
      {"jour":438,"v":1.2},{"jour":440,"v":1.0},{"jour":442,"v":1.1},{"jour":443,"v":1.0},{"jour":445,"v":0.9},{"jour":447,"v":0.9},{"jour":448,"v":0.5},{"jour":450,"v":0.9},{"jour":452,"v":0.8},{"jour":453,"v":0.9},
      {"jour":455,"v":0.8},{"jour":457,"v":0.9},{"jour":458,"v":0.8},{"jour":460,"v":0.8},{"jour":462,"v":0.9},{"jour":463,"v":0.7},{"jour":465,"v":1.0},{"jour":467,"v":0.9},{"jour":468,"v":0.8},{"jour":470,"v":0.9},
      {"jour":472,"v":0.8},{"jour":473,"v":0.8},{"jour":475,"v":0.7},{"jour":477,"v":0.5},{"jour":478,"v":0.7},{"jour":480,"v":0.8},{"jour":482,"v":1.2},{"jour":483,"v":0.8},{"jour":485,"v":0.7},{"jour":487,"v":0.8},
      {"jour":488,"v":0.9},{"jour":490,"v":0.8},{"jour":492,"v":0.9},{"jour":493,"v":1.0},{"jour":495,"v":0.9},{"jour":497,"v":1.2},{"jour":498,"v":1.0},{"jour":500,"v":0.6},{"jour":502,"v":1.0},{"jour":503,"v":0.9},
      {"jour":505,"v":1.1},{"jour":507,"v":0.9},{"jour":508,"v":1.1},{"jour":510,"v":0.9},{"jour":512,"v":0.7},{"jour":513,"v":0.8},{"jour":515,"v":0.8},{"jour":517,"v":0.8},{"jour":518,"v":0.7},{"jour":520,"v":0.8},
      {"jour":522,"v":0.9},{"jour":523,"v":0.8},{"jour":525,"v":1.0},{"jour":527,"v":1.5},{"jour":528,"v":0.8},{"jour":530,"v":0.8},{"jour":532,"v":0.8},{"jour":533,"v":0.8},{"jour":535,"v":0.9},{"jour":537,"v":0.7},
      {"jour":538,"v":0.8},{"jour":540,"v":1.0},{"jour":542,"v":1.2},{"jour":543,"v":1.1},{"jour":545,"v":1.0},{"jour":547,"v":1.1},{"jour":548,"v":0.8},{"jour":550,"v":1.0},{"jour":552,"v":0.8},{"jour":553,"v":1.1},
      {"jour":555,"v":1.2},{"jour":557,"v":0.9},{"jour":558,"v":1.5},{"jour":560,"v":0.9},{"jour":562,"v":0.6},{"jour":563,"v":0.5},{"jour":565,"v":0.4},{"jour":567,"v":1.2},{"jour":568,"v":1.3},{"jour":570,"v":1.3},
      {"jour":572,"v":1.4},{"jour":573,"v":1.6},{"jour":575,"v":1.4},{"jour":576,"v":2.0},{"jour":577,"v":1.5},{"jour":578,"v":0.8},{"jour":580,"v":1.3},{"jour":582,"v":1.3},{"jour":583,"v":1.6},{"jour":584,"v":2.1},
      {"jour":586,"v":1.6},{"jour":587,"v":1.7},{"jour":588,"v":2.1},{"jour":590,"v":1.5},{"jour":592,"v":1.2},{"jour":593,"v":1.3},{"jour":595,"v":1.1},{"jour":597,"v":1.0},{"jour":598,"v":1.0},{"jour":600,"v":0.9},
      {"jour":602,"v":1.0},{"jour":603,"v":0.9},{"jour":605,"v":1.1},{"jour":607,"v":1.2},{"jour":608,"v":1.4},{"jour":610,"v":1.5},{"jour":612,"v":1.4},{"jour":613,"v":1.2},{"jour":615,"v":1.3},{"jour":617,"v":1.1},
      {"jour":618,"v":1.0},{"jour":620,"v":0.9},{"jour":622,"v":1.2},{"jour":623,"v":1.1},{"jour":625,"v":0.9},{"jour":627,"v":0.8},{"jour":628,"v":0.8},{"jour":630,"v":0.7},{"jour":632,"v":0.8},{"jour":633,"v":0.7},
      {"jour":635,"v":0.8},{"jour":637,"v":0.7},{"jour":638,"v":0.7},{"jour":640,"v":0.6},{"jour":642,"v":0.6},{"jour":643,"v":0.8},{"jour":645,"v":0.9},{"jour":647,"v":0.7},{"jour":648,"v":0.7},{"jour":650,"v":0.8},
      {"jour":652,"v":0.9},{"jour":653,"v":0.9},{"jour":655,"v":1.0},{"jour":657,"v":0.9},{"jour":658,"v":0.6},{"jour":660,"v":0.8},{"jour":662,"v":0.7},{"jour":663,"v":0.6},{"jour":665,"v":0.7},{"jour":667,"v":0.8},
      {"jour":668,"v":0.6},{"jour":670,"v":0.5},{"jour":672,"v":0.4},{"jour":673,"v":0.9},{"jour":675,"v":0.8},{"jour":677,"v":0.9},{"jour":678,"v":0.8},{"jour":680,"v":0.9},{"jour":682,"v":0.9},{"jour":683,"v":1.0},
      {"jour":685,"v":0.8},{"jour":687,"v":0.9},{"jour":688,"v":1.0},{"jour":690,"v":0.7},{"jour":692,"v":0.9},{"jour":693,"v":0.6},{"jour":695,"v":0.5},{"jour":697,"v":0.8},{"jour":698,"v":1.2},{"jour":700,"v":1.3},
      {"jour":702,"v":0.8},{"jour":703,"v":0.7},{"jour":705,"v":0.9},{"jour":707,"v":0.8},{"jour":708,"v":0.6},{"jour":710,"v":0.8},{"jour":712,"v":0.7},{"jour":713,"v":0.5},{"jour":715,"v":0.9},{"jour":717,"v":0.6},
      {"jour":718,"v":0.8},{"jour":720,"v":1.0},{"jour":722,"v":1.0},{"jour":723,"v":0.8},{"jour":725,"v":0.7},{"jour":727,"v":0.6},{"jour":728,"v":0.8},{"jour":730,"v":0.9},{"jour":732,"v":0.6},{"jour":733,"v":0.9},
      {"jour":735,"v":1.0},{"jour":737,"v":0.8},{"jour":738,"v":0.7},{"jour":740,"v":0.6},{"jour":742,"v":0.6},{"jour":743,"v":0.8},{"jour":745,"v":0.7},{"jour":747,"v":0.6},{"jour":748,"v":0.6},{"jour":750,"v":0.4},
      {"jour":752,"v":0.8},{"jour":753,"v":1.6},{"jour":755,"v":1.0},{"jour":756,"v":2.5},{"jour":757,"v":1.8},{"jour":759,"v":1.6},{"jour":760,"v":1.8},{"jour":762,"v":1.0},{"jour":763,"v":0.9},{"jour":765,"v":1.1},
      {"jour":767,"v":1.9},{"jour":768,"v":1.3},{"jour":770,"v":1.2},{"jour":772,"v":0.9},{"jour":773,"v":1.1},{"jour":775,"v":0.8},{"jour":777,"v":1.2},{"jour":778,"v":0.9},{"jour":780,"v":0.8},{"jour":782,"v":0.6},
      {"jour":783,"v":0.8},{"jour":785,"v":0.7},{"jour":787,"v":0.7},{"jour":788,"v":0.6},{"jour":790,"v":0.8},{"jour":792,"v":0.7},{"jour":793,"v":0.8},{"jour":795,"v":0.7},{"jour":797,"v":0.9},{"jour":798,"v":1.0},
      {"jour":800,"v":0.8},{"jour":802,"v":0.6},{"jour":803,"v":0.9},{"jour":805,"v":1.0},{"jour":807,"v":0.9},{"jour":808,"v":1.1},{"jour":810,"v":0.8},{"jour":812,"v":0.9},{"jour":813,"v":1.1},{"jour":815,"v":1.3},
      {"jour":817,"v":0.8},{"jour":818,"v":0.9},{"jour":820,"v":0.9},{"jour":822,"v":1.3},{"jour":823,"v":1.5},{"jour":825,"v":1.2},{"jour":827,"v":1.0},{"jour":828,"v":0.7},{"jour":830,"v":0.8},{"jour":832,"v":1.3},
      {"jour":833,"v":1.5},{"jour":835,"v":1.8},{"jour":837,"v":1.3},{"jour":838,"v":1.3},{"jour":840,"v":1.4},{"jour":842,"v":0.8},{"jour":843,"v":0.8},{"jour":845,"v":0.7},{"jour":847,"v":1.0},{"jour":848,"v":0.8},
      {"jour":850,"v":0.7},{"jour":852,"v":1.5},{"jour":853,"v":2.3},{"jour":855,"v":2.2},{"jour":856,"v":2.8},{"jour":857,"v":1.7},{"jour":859,"v":2.8},{"jour":860,"v":2.0},{"jour":862,"v":1.9},{"jour":863,"v":2.4},
      {"jour":865,"v":2.9},{"jour":866,"v":3.3},{"jour":867,"v":3.0},{"jour":869,"v":3.9},{"jour":870,"v":2.0},{"jour":872,"v":1.4},{"jour":873,"v":1.5},{"jour":875,"v":1.0},{"jour":877,"v":1.2},{"jour":878,"v":1.0},
      {"jour":880,"v":1.2},{"jour":882,"v":1.0},{"jour":883,"v":1.4},{"jour":885,"v":1.6},{"jour":887,"v":1.0},{"jour":888,"v":0.9},{"jour":889,"v":2.4},{"jour":891,"v":1.0},{"jour":892,"v":0.9},{"jour":893,"v":0.9},
      {"jour":895,"v":0.8},{"jour":897,"v":0.7},{"jour":898,"v":1.0},{"jour":900,"v":0.8},{"jour":902,"v":0.6},{"jour":903,"v":0.6},{"jour":905,"v":1.0},{"jour":907,"v":1.5},{"jour":908,"v":1.3},{"jour":910,"v":1.6},
      {"jour":912,"v":1.7},{"jour":913,"v":1.4},{"jour":915,"v":2.2},{"jour":917,"v":1.4},{"jour":918,"v":0.9},{"jour":920,"v":0.6},{"jour":922,"v":1.9},{"jour":923,"v":2.6},{"jour":925,"v":2.3},{"jour":926,"v":3.0},
      {"jour":927,"v":1.8},{"jour":929,"v":1.7},{"jour":930,"v":2.2},{"jour":932,"v":2.0},{"jour":933,"v":2.9},{"jour":935,"v":1.7},{"jour":937,"v":1.8},{"jour":938,"v":1.5},{"jour":940,"v":1.2},{"jour":942,"v":1.3},
      {"jour":943,"v":1.0},{"jour":945,"v":2.5},{"jour":947,"v":2.1},{"jour":948,"v":1.5},{"jour":950,"v":1.7},{"jour":952,"v":1.8},{"jour":953,"v":1.0},{"jour":955,"v":0.7},{"jour":957,"v":1.0},{"jour":958,"v":1.1}
    ]
  },
  "vconcat": [
    {
      "title": {"text": "(a) rendements journaliers absolus standardisés par leur moyenne"},
      "data": {"name": "a"},
      "width": 962,
      "height": 260,
      "layer": [
        {
          "mark": {"type": "line", "interpolate": "linear", "color": "#0000ff", "strokeWidth": 2.2},
          "encoding": {
            "x": {"field": "jour", "type": "quantitative", "scale": {"domain": [0, 962], "nice": false, "zero": false},
              "axis": {"orient": "bottom", "title": null, "values": [0, 238, 480, 719, 960],
                "labelExpr": "datum.value == 0 ? '0' : datum.value == 238 ? '2004' : datum.value == 480 ? '2005' : datum.value == 719 ? '2006' : '2007'",
                "labelOffset": {"condition": {"test": "datum.value == 960", "value": -4}, "value": 0}}},
            "y": {"field": "v", "type": "quantitative", "scale": {"domain": [0, 6], "nice": false},
              "axis": {"orient": "left", "title": null, "values": [0, 2, 4, 6]}}
          }
        },
        {
          "mark": {"type": "line", "opacity": 0},
          "encoding": {
            "x": {"field": "jour", "type": "quantitative", "axis": {"orient": "top", "title": null, "labels": false, "values": [238, 480, 719, 960]}},
            "y": {"field": "v", "type": "quantitative", "axis": {"orient": "right", "title": null, "labels": false, "values": [2, 4]}}
          }
        }
      ],
      "resolve": {"axis": {"x": "independent", "y": "independent"}}
    },
    {
      "title": {"text": "(b) rendements (max-min) standardisés par leur moyenne"},
      "data": {"name": "b"},
      "width": 962,
      "height": 255,
      "layer": [
        {
          "mark": {"type": "line", "interpolate": "linear", "color": "#0000ff", "strokeWidth": 2.2},
          "encoding": {
            "x": {"field": "jour", "type": "quantitative", "scale": {"domain": [0, 962], "nice": false, "zero": false},
              "axis": {"orient": "bottom", "title": null, "values": [0, 238, 480, 719, 960],
                "labelExpr": "datum.value == 0 ? '0' : datum.value == 238 ? '2004' : datum.value == 480 ? '2005' : datum.value == 719 ? '2006' : '2007'",
                "labelOffset": {"condition": {"test": "datum.value == 960", "value": -4}, "value": 0}}},
            "y": {"field": "v", "type": "quantitative", "scale": {"domain": [0, 4], "nice": false},
              "axis": {"orient": "left", "title": null, "values": [0, 1, 2, 3, 4]}}
          }
        },
        {
          "mark": {"type": "line", "opacity": 0},
          "encoding": {
            "x": {"field": "jour", "type": "quantitative", "axis": {"orient": "top", "title": null, "labels": false, "values": [238, 480, 719, 960]}},
            "y": {"field": "v", "type": "quantitative", "axis": {"orient": "right", "title": null, "labels": false, "values": [1, 2, 3]}}
          }
        }
      ],
      "resolve": {"axis": {"x": "independent", "y": "independent"}}
    },
    {
      "title": {"text": "(c) volatilités réalisées standardisées par leur moyenne"},
      "data": {"name": "c"},
      "width": 962,
      "height": 266,
      "layer": [
        {
          "mark": {"type": "line", "interpolate": "linear", "color": "#0000ff", "strokeWidth": 2.2},
          "encoding": {
            "x": {"field": "jour", "type": "quantitative", "scale": {"domain": [0, 962], "nice": false, "zero": false},
              "axis": {"orient": "bottom", "title": null, "values": [0, 238, 480, 719, 960],
                "labelExpr": "datum.value == 0 ? '0' : datum.value == 238 ? '2004' : datum.value == 480 ? '2005' : datum.value == 719 ? '2006' : '2007'",
                "labelOffset": {"condition": {"test": "datum.value == 960", "value": -4}, "value": 0}}},
            "y": {"field": "v", "type": "quantitative", "scale": {"domain": [0, 4], "nice": false},
              "axis": {"orient": "left", "title": null, "values": [0, 1, 2, 3, 4]}}
          }
        },
        {
          "mark": {"type": "line", "opacity": 0},
          "encoding": {
            "x": {"field": "jour", "type": "quantitative", "axis": {"orient": "top", "title": null, "labels": false, "values": [238, 480, 719, 960]}},
            "y": {"field": "v", "type": "quantitative", "axis": {"orient": "right", "title": null, "labels": false, "values": [1, 2, 3]}}
          }
        }
      ],
      "resolve": {"axis": {"x": "independent", "y": "independent"}}
    }
  ]
}
